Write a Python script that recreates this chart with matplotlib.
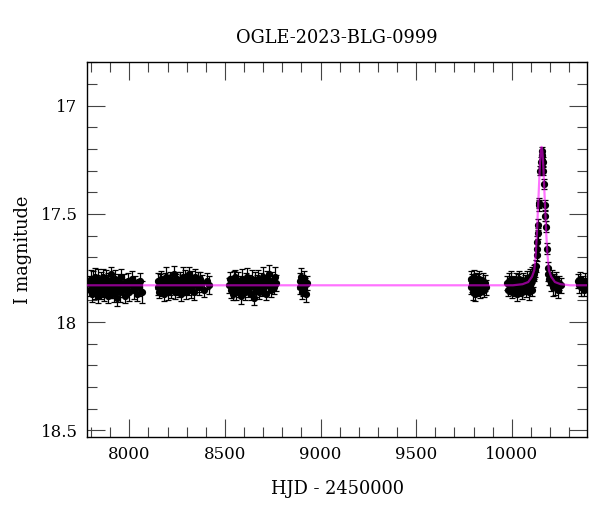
import matplotlib
matplotlib.use('Agg')
import matplotlib.pyplot as plt
from matplotlib.ticker import MultipleLocator, FuncFormatter

plt.rcParams['font.family'] = ['DejaVu Serif']

# ---------------- data (HJD-2450000, I mag, error) ----------------
s1_t = [7790, 7794, 7798, 7802, 7806, 7810, 7814, 7818, 7822, 7826,
        7830, 7834, 7838, 7842, 7846, 7850, 7854, 7858, 7862, 7866,
        7870, 7874, 7878, 7882, 7886, 7890, 7894, 7898, 7902, 7906,
        7910, 7915, 7920, 7925, 7930, 7935, 7940, 7946, 7952, 7958,
        7964, 7970, 7977, 7984, 7991, 7998, 8006, 8014, 8022, 8030,
        8040, 8050, 8058, 8064]
s1_m = [17.82, 17.85, 17.80, 17.84, 17.87, 17.81, 17.83, 17.86, 17.79, 17.84,
        17.82, 17.88, 17.80, 17.85, 17.83, 17.81, 17.86, 17.84, 17.79, 17.87,
        17.82, 17.85, 17.80, 17.83, 17.88, 17.81, 17.84, 17.86, 17.78, 17.83,
        17.85, 17.82, 17.87, 17.80, 17.84, 17.89, 17.81, 17.83, 17.86, 17.79,
        17.85, 17.82, 17.88, 17.84, 17.81, 17.86, 17.83, 17.80, 17.85, 17.82,
        17.87, 17.84, 17.81, 17.86]
s1_e = [0.035, 0.030, 0.040, 0.032, 0.036, 0.045, 0.030, 0.034, 0.042, 0.031,
        0.038, 0.033, 0.047, 0.030, 0.036, 0.040, 0.032, 0.044, 0.035, 0.031,
        0.037, 0.030, 0.041, 0.034, 0.032, 0.039, 0.046, 0.031, 0.036, 0.033,
        0.040, 0.030, 0.035, 0.043, 0.032, 0.038, 0.034, 0.031, 0.045, 0.036,
        0.033, 0.040, 0.031, 0.037, 0.035, 0.042, 0.030, 0.038, 0.044, 0.034,
        0.032, 0.040, 0.036, 0.050]

s2_t = [8148, 8152, 8157, 8161, 8166, 8170, 8175, 8179, 8184, 8188,
        8193, 8197, 8202, 8206, 8211, 8215, 8220, 8224, 8229, 8233,
        8238, 8242, 8247, 8251, 8256, 8260, 8265, 8269, 8274, 8278,
        8283, 8287, 8292, 8296, 8301, 8305, 8310, 8314, 8319, 8323,
        8328, 8333, 8338, 8344, 8350, 8357, 8364, 8372, 8381, 8392,
        8405, 8418]
s2_m = [17.84, 17.81, 17.86, 17.82, 17.80, 17.85, 17.83, 17.87, 17.81, 17.84,
        17.79, 17.83, 17.86, 17.82, 17.80, 17.84, 17.85, 17.81, 17.83, 17.78,
        17.86, 17.82, 17.84, 17.80, 17.83, 17.85, 17.81, 17.87, 17.82, 17.79,
        17.84, 17.83, 17.80, 17.86, 17.82, 17.81, 17.84, 17.78, 17.83, 17.85,
        17.80, 17.82, 17.86, 17.79, 17.83, 17.81, 17.84, 17.80, 17.82, 17.85,
        17.81, 17.83]
s2_e = [0.033, 0.038, 0.030, 0.042, 0.035, 0.031, 0.040, 0.034, 0.037, 0.030,
        0.044, 0.032, 0.036, 0.039, 0.031, 0.035, 0.041, 0.030, 0.034, 0.038,
        0.032, 0.043, 0.035, 0.030, 0.037, 0.033, 0.040, 0.031, 0.036, 0.045,
        0.034, 0.030, 0.039, 0.035, 0.042, 0.031, 0.037, 0.033, 0.030, 0.040,
        0.036, 0.032, 0.038, 0.034, 0.031, 0.041, 0.035, 0.030, 0.039, 0.033,
        0.037, 0.042]

s3_t = [8520, 8525, 8530, 8535, 8540, 8545, 8550, 8555, 8560, 8565,
        8570, 8575, 8580, 8585, 8590, 8595, 8600, 8605, 8610, 8615,
        8620, 8625, 8630, 8635, 8640, 8645, 8650, 8655, 8660, 8665,
        8670, 8675, 8680, 8685, 8690, 8695, 8700, 8705, 8710, 8715,
        8720, 8726, 8732, 8739, 8746, 8754, 8762, 8768]
s3_m = [17.83, 17.80, 17.85, 17.82, 17.87, 17.81, 17.84, 17.79, 17.86, 17.83,
        17.81, 17.85, 17.82, 17.88, 17.80, 17.84, 17.83, 17.86, 17.81, 17.79,
        17.85, 17.82, 17.84, 17.87, 17.80, 17.83, 17.89, 17.81, 17.85, 17.82,
        17.84, 17.80, 17.86, 17.83, 17.81, 17.85, 17.79, 17.84, 17.82, 17.87,
        17.80, 17.83, 17.78, 17.85, 17.81, 17.84, 17.79, 17.82]
s3_e = [0.036, 0.031, 0.040, 0.033, 0.030, 0.044, 0.035, 0.032, 0.038, 0.030,
        0.041, 0.034, 0.031, 0.037, 0.045, 0.033, 0.030, 0.039, 0.035, 0.042,
        0.032, 0.038, 0.034, 0.030, 0.040, 0.036, 0.031, 0.043, 0.033, 0.037,
        0.030, 0.041, 0.035, 0.032, 0.039, 0.031, 0.044, 0.034, 0.037, 0.030,
        0.038, 0.033, 0.046, 0.035, 0.040, 0.032, 0.043, 0.036]

s4_t = [8890, 8894, 8898, 8902, 8906, 8910, 8914, 8918, 8922, 8927]
s4_m = [17.81, 17.84, 17.79, 17.86, 17.82, 17.85, 17.80, 17.83, 17.87, 17.82]
s4_e = [0.035, 0.030, 0.040, 0.033, 0.038, 0.031, 0.036, 0.034, 0.039, 0.032]

s5_t = [9785, 9789, 9793, 9797, 9801, 9805, 9809, 9813, 9817, 9821,
        9826, 9831, 9836, 9841, 9847, 9853, 9860, 9866]
s5_m = [17.80, 17.84, 17.82, 17.86, 17.79, 17.83, 17.87, 17.81, 17.85, 17.82,
        17.84, 17.80, 17.86, 17.83, 17.81, 17.85, 17.82, 17.84]
s5_e = [0.035, 0.032, 0.040, 0.036, 0.030, 0.045, 0.033, 0.038, 0.031, 0.042,
        0.034, 0.037, 0.030, 0.039, 0.035, 0.032, 0.036, 0.033]

s6_t = [9975, 9980, 9985, 9990, 9995, 10000, 10005, 10010, 10015, 10020,
        10025, 10030, 10035, 10040, 10045, 10050, 10055, 10060, 10065, 10070,
        10075, 10080, 10085, 10090, 10095, 10100, 10104, 10108, 10112, 10115]
s6_m = [17.82, 17.85, 17.81, 17.84, 17.80, 17.86, 17.83, 17.82, 17.85, 17.81,
        17.84, 17.87, 17.82, 17.80, 17.85, 17.83, 17.86, 17.81, 17.84, 17.82,
        17.85, 17.80, 17.83, 17.86, 17.79, 17.82, 17.78, 17.85, 17.80, 17.77]
s6_e = [0.034, 0.030, 0.038, 0.032, 0.036, 0.031, 0.040, 0.033, 0.030, 0.037,
        0.035, 0.031, 0.042, 0.034, 0.030, 0.038, 0.033, 0.036, 0.031, 0.039,
        0.032, 0.035, 0.030, 0.037, 0.034, 0.041, 0.033, 0.030, 0.036, 0.032]

ev_t = [10118, 10122, 10126, 10130, 10132, 10134, 10136, 10139, 10142, 10145,
        10150, 10153, 10156, 10158, 10160, 10162, 10165, 10168, 10172, 10174,
        10178, 10182, 10187, 10192, 10197]
ev_m = [17.78, 17.76, 17.74, 17.69, 17.66, 17.63, 17.59, 17.55, 17.46, 17.45,
        17.30, 17.26, 17.21, 17.23, 17.25, 17.26, 17.30, 17.36, 17.46, 17.51,
        17.56, 17.66, 17.75, 17.78, 17.80]
ev_e = [0.030, 0.030, 0.028, 0.028, 0.027, 0.026, 0.026, 0.025, 0.025, 0.024,
        0.022, 0.022, 0.021, 0.021, 0.022, 0.022, 0.022, 0.023, 0.024, 0.025,
        0.025, 0.026, 0.028, 0.030, 0.030]

post_t = [10201, 10206, 10211, 10216, 10221, 10227, 10233, 10240, 10248, 10256]
post_m = [17.80, 17.82, 17.79, 17.84, 17.81, 17.83, 17.80, 17.85, 17.82, 17.83]
post_e = [0.030, 0.035, 0.032, 0.040, 0.033, 0.045, 0.031, 0.038, 0.034, 0.036]

s7_t = [10346, 10352, 10358, 10364, 10370, 10377, 10384, 10391]
s7_m = [17.81, 17.83, 17.80, 17.84, 17.82, 17.85, 17.81, 17.83]
s7_e = [0.032, 0.036, 0.030, 0.038, 0.034, 0.031, 0.037, 0.033]

# model light curve
model_t = [7780, 9900, 10006, 10056, 10086, 10106, 10118, 10126, 10131, 10136,
           10140, 10144, 10148, 10152, 10156, 10160, 10164, 10168, 10172, 10176,
           10181, 10186, 10194, 10206, 10226, 10256, 10306, 10395]
model_m = [17.83, 17.83, 17.83, 17.825, 17.815, 17.79, 17.76, 17.68, 17.60, 17.50,
           17.42, 17.34, 17.26, 17.21, 17.19, 17.21, 17.26, 17.34, 17.42, 17.50,
           17.60, 17.68, 17.76, 17.79, 17.815, 17.825, 17.83, 17.83]

title = "OGLE-2023-BLG-0999"
xlabel = "HJD - 2450000"
ylabel = "I magnitude"

# ---------------- plot ----------------
fig = plt.figure(figsize=(6.0, 5.12), dpi=100)
ax = fig.add_axes([0.1455, 0.147, 0.8333, 0.731])

seasons = [(s1_t, s1_m, s1_e), (s2_t, s2_m, s2_e), (s3_t, s3_m, s3_e),
           (s4_t, s4_m, s4_e), (s5_t, s5_m, s5_e), (s6_t, s6_m, s6_e),
           (ev_t, ev_m, ev_e), (post_t, post_m, post_e), (s7_t, s7_m, s7_e)]
for t, m, e in seasons:
    ax.errorbar(t, m, yerr=e, fmt='o', color='black', ms=4.2,
                elinewidth=0.9, capsize=2.4, capthick=0.9, zorder=2)

ax.plot(model_t, model_m, color='#ff00ff', alpha=0.55, lw=1.6, zorder=3)

ax.set_xlim(7780, 10395)
ax.set_ylim(18.53, 16.80)

ax.xaxis.set_major_locator(MultipleLocator(500))
ax.xaxis.set_minor_locator(MultipleLocator(100))
ax.yaxis.set_major_locator(MultipleLocator(0.5))
ax.yaxis.set_minor_locator(MultipleLocator(0.1))
ax.yaxis.set_major_formatter(FuncFormatter(lambda v, p: f"{v:g}"))

ax.tick_params(which='both', direction='in', top=True, right=True,
               color='#444444', width=0.8, labelsize=12, pad=7)
ax.tick_params(which='major', length=13)
ax.tick_params(which='minor', length=7)
for s in ax.spines.values():
    s.set_linewidth(1.0)

ax.set_title(title, fontsize=12.8, pad=14)
ax.set_xlabel(xlabel, fontsize=12.8, labelpad=12)
ax.set_ylabel(ylabel, fontsize=12.8, labelpad=6)

fig.savefig('out.png', dpi=100)
